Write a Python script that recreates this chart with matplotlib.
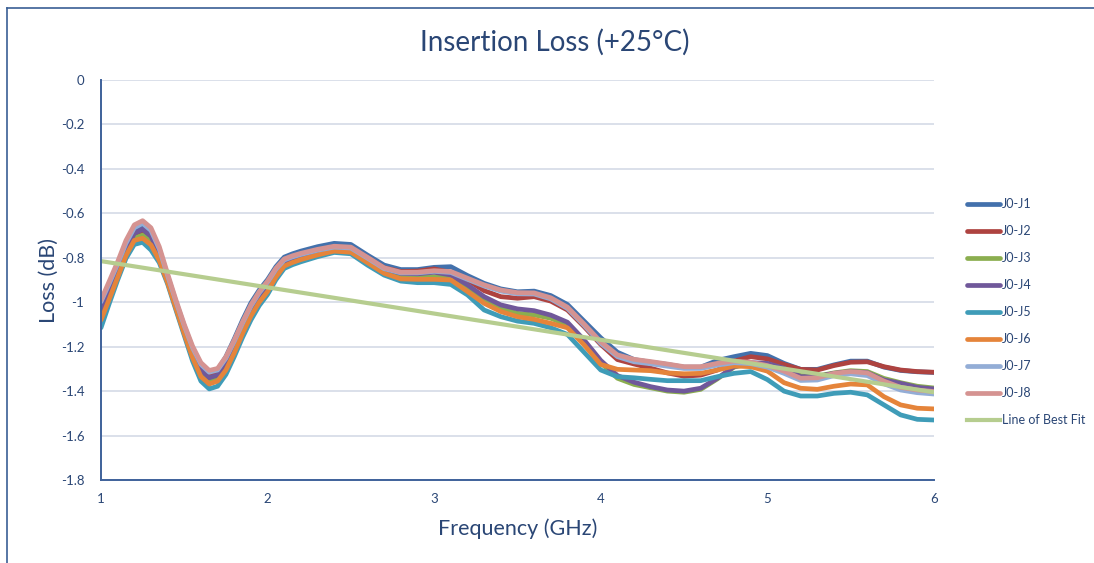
import matplotlib
matplotlib.use('Agg')
import matplotlib.pyplot as plt
from matplotlib.lines import Line2D

plt.rcParams['font.family'] = ['Lato', 'DejaVu Sans']
plt.rcParams['axes.unicode_minus'] = False

# frequency grid (GHz), denser where the curves bend hard
freq = [1.00, 1.05, 1.10, 1.15, 1.20, 1.25, 1.30, 1.35, 1.40, 1.45,
        1.50, 1.55, 1.60, 1.65, 1.70, 1.75, 1.80, 1.85, 1.90, 1.95,
        2.00, 2.05, 2.10, 2.15, 2.2, 2.3, 2.4, 2.5, 2.6, 2.7, 2.8, 2.9,
        3.0, 3.1, 3.2, 3.3, 3.4, 3.5, 3.6, 3.7, 3.8, 3.9,
        4.0, 4.1, 4.2, 4.3, 4.4, 4.5, 4.6, 4.7, 4.8, 4.9,
        5.0, 5.1, 5.2, 5.3, 5.4, 5.5, 5.6, 5.7, 5.8, 5.9, 6.0]

j1 = [-1.005, -0.925, -0.838, -0.745, -0.675, -0.660, -0.690, -0.770, -0.885, -1.000,
      -1.110, -1.210, -1.285, -1.320, -1.305, -1.245, -1.165, -1.080, -1.003, -0.945,
      -0.898, -0.840, -0.797, -0.782, -0.770, -0.750, -0.735, -0.740, -0.788, -0.833, -0.853, -0.853,
      -0.843, -0.840, -0.880, -0.915, -0.940, -0.953, -0.950, -0.970, -1.010, -1.085,
      -1.160, -1.225, -1.258, -1.270, -1.280, -1.292, -1.292, -1.262, -1.245, -1.230,
      -1.240, -1.275, -1.302, -1.302, -1.282, -1.265, -1.265, -1.292, -1.307, -1.313, -1.316]

j2 = [-1.040, -0.950, -0.860, -0.765, -0.695, -0.680, -0.710, -0.785, -0.895, -1.010,
      -1.120, -1.222, -1.300, -1.333, -1.322, -1.270, -1.192, -1.108, -1.030, -0.968,
      -0.920, -0.859, -0.813, -0.797, -0.785, -0.765, -0.750, -0.755, -0.800, -0.845, -0.862, -0.860,
      -0.850, -0.866, -0.900, -0.948, -0.975, -0.982, -0.975, -0.995, -1.035, -1.110,
      -1.190, -1.258, -1.278, -1.297, -1.318, -1.333, -1.328, -1.305, -1.265, -1.245,
      -1.255, -1.280, -1.302, -1.305, -1.285, -1.270, -1.268, -1.290, -1.305, -1.312, -1.315]

j3 = [-1.060, -0.965, -0.872, -0.778, -0.712, -0.698, -0.728, -0.800, -0.905, -1.020,
      -1.135, -1.240, -1.322, -1.358, -1.345, -1.292, -1.215, -1.128, -1.050, -0.990,
      -0.940, -0.877, -0.830, -0.813, -0.800, -0.780, -0.765, -0.770, -0.815, -0.862, -0.885, -0.888,
      -0.885, -0.888, -0.935, -0.993, -1.027, -1.050, -1.057, -1.072, -1.102, -1.182,
      -1.272, -1.342, -1.370, -1.385, -1.400, -1.405, -1.392, -1.345, -1.292, -1.275,
      -1.280, -1.298, -1.330, -1.332, -1.318, -1.308, -1.312, -1.343, -1.362, -1.378, -1.386]

j4 = [-1.035, -0.945, -0.855, -0.760, -0.690, -0.672, -0.703, -0.782, -0.895, -1.012,
      -1.125, -1.228, -1.305, -1.340, -1.328, -1.275, -1.198, -1.112, -1.035, -0.975,
      -0.925, -0.864, -0.818, -0.801, -0.788, -0.768, -0.752, -0.758, -0.805, -0.850, -0.870, -0.872,
      -0.865, -0.877, -0.922, -0.975, -1.012, -1.030, -1.038, -1.058, -1.090, -1.170,
      -1.262, -1.330, -1.360, -1.380, -1.395, -1.400, -1.387, -1.342, -1.290, -1.272,
      -1.275, -1.297, -1.335, -1.335, -1.320, -1.312, -1.317, -1.350, -1.365, -1.383, -1.390]

j5 = [-1.115, -1.005, -0.900, -0.803, -0.740, -0.730, -0.765, -0.822, -0.918, -1.035,
      -1.150, -1.265, -1.355, -1.390, -1.378, -1.325, -1.245, -1.158, -1.080, -1.015,
      -0.965, -0.899, -0.848, -0.831, -0.818, -0.795, -0.776, -0.782, -0.833, -0.878, -0.905, -0.912,
      -0.912, -0.920, -0.967, -1.035, -1.065, -1.085, -1.095, -1.115, -1.145, -1.225,
      -1.305, -1.335, -1.340, -1.347, -1.353, -1.353, -1.353, -1.335, -1.320, -1.312,
      -1.348, -1.400, -1.422, -1.422, -1.410, -1.405, -1.417, -1.462, -1.507, -1.527, -1.530]

j6 = [-1.080, -0.985, -0.888, -0.790, -0.722, -0.712, -0.742, -0.812, -0.912, -1.028,
      -1.142, -1.250, -1.335, -1.368, -1.355, -1.305, -1.228, -1.140, -1.062, -1.000,
      -0.952, -0.887, -0.837, -0.821, -0.808, -0.787, -0.770, -0.775, -0.822, -0.870, -0.895, -0.897,
      -0.897, -0.900, -0.952, -1.005, -1.042, -1.065, -1.077, -1.095, -1.115, -1.192,
      -1.280, -1.302, -1.305, -1.308, -1.318, -1.322, -1.320, -1.305, -1.287, -1.290,
      -1.310, -1.362, -1.387, -1.392, -1.378, -1.368, -1.372, -1.425, -1.462, -1.477, -1.480]

j7 = [-0.998, -0.915, -0.828, -0.735, -0.665, -0.645, -0.677, -0.760, -0.880, -0.996,
      -1.106, -1.205, -1.280, -1.315, -1.305, -1.252, -1.176, -1.094, -1.018, -0.958,
      -0.910, -0.852, -0.810, -0.796, -0.785, -0.766, -0.752, -0.756, -0.802, -0.849, -0.868, -0.868,
      -0.861, -0.866, -0.897, -0.927, -0.950, -0.962, -0.963, -0.985, -1.028, -1.104,
      -1.185, -1.245, -1.268, -1.277, -1.288, -1.298, -1.298, -1.283, -1.272, -1.276,
      -1.292, -1.320, -1.352, -1.350, -1.330, -1.322, -1.330, -1.367, -1.395, -1.407, -1.413]

j8 = [-0.990, -0.905, -0.818, -0.722, -0.652, -0.633, -0.665, -0.750, -0.872, -0.990,
      -1.100, -1.198, -1.272, -1.307, -1.298, -1.245, -1.170, -1.088, -1.012, -0.952,
      -0.905, -0.847, -0.805, -0.791, -0.780, -0.762, -0.748, -0.752, -0.798, -0.845, -0.865, -0.865,
      -0.858, -0.862, -0.892, -0.922, -0.945, -0.957, -0.958, -0.980, -1.022, -1.098,
      -1.178, -1.237, -1.257, -1.267, -1.278, -1.290, -1.290, -1.275, -1.265, -1.270,
      -1.285, -1.310, -1.342, -1.340, -1.320, -1.312, -1.318, -1.355, -1.383, -1.395, -1.402]

fit_freq = [1.0, 6.0]
fit_loss = [-0.815, -1.405]

series = [
    ('J0-J1', j1, '#4371AC'),
    ('J0-J2', j2, '#AE4340'),
    ('J0-J3', j3, '#8BAE4F'),
    ('J0-J4', j4, '#70589A'),
    ('J0-J5', j5, '#3F9CB8'),
    ('J0-J6', j6, '#E5843A'),
    ('J0-J7', j7, '#93ADD6'),
    ('J0-J8', j8, '#D59391'),
]

text_col = '#2A4675'
axis_col = '#3E619A'

fig = plt.figure(figsize=(10.94, 5.63), dpi=100)
ax = fig.add_axes([0.0923, 0.1474, 0.7614, 0.7105])

for name, vals, col in series:
    ax.plot(freq, vals, color=col, lw=3.4, label=name,
            solid_capstyle='round', solid_joinstyle='round')
ax.plot(fit_freq, fit_loss, color='#B6CD8F', lw=3.0, label='Line of Best Fit')

ax.set_xlim(1, 6)
ax.set_ylim(-1.8, 0)
ax.set_xticks([1, 2, 3, 4, 5, 6])
ax.set_yticks([0, -0.2, -0.4, -0.6, -0.8, -1, -1.2, -1.4, -1.6, -1.8])
ax.set_yticklabels(['0', '-0.2', '-0.4', '-0.6', '-0.8', '-1', '-1.2', '-1.4', '-1.6', '-1.8'])
ax.tick_params(length=0, labelsize=9.5, colors=text_col)
ax.tick_params(axis='y', pad=12)
ax.tick_params(axis='x', pad=9)

ax.grid(axis='y', color='#D4DAE6', lw=1.2)
ax.set_axisbelow(True)
for side in ('top', 'right'):
    ax.spines[side].set_visible(False)
for side in ('left', 'bottom'):
    ax.spines[side].set_color(axis_col)
    ax.spines[side].set_linewidth(1.4)

fig.text(0.507, 0.925, 'Insertion Loss (+25°C)', fontsize=20, color=text_col,
         ha='center', va='center')
ax.set_xlabel('Frequency (GHz)', fontsize=15.5, color=text_col, labelpad=10)
ax.set_ylabel('Loss (dB)', fontsize=15.5, color=text_col, labelpad=1)

fig.legend(loc='upper left', bbox_to_anchor=(0.874, 0.668), frameon=False,
           fontsize=9, labelcolor=text_col, handlelength=2.6,
           handletextpad=0.15, labelspacing=1.2)

# chart-area border (cropped on right and bottom)
fig.add_artist(Line2D([0.0065, 0.0065], [0.0, 0.986], color='#3A5F95', lw=1.2))
fig.add_artist(Line2D([0.0065, 1.0], [0.986, 0.986], color='#3A5F95', lw=1.2))

fig.savefig('out.png', dpi=100)
